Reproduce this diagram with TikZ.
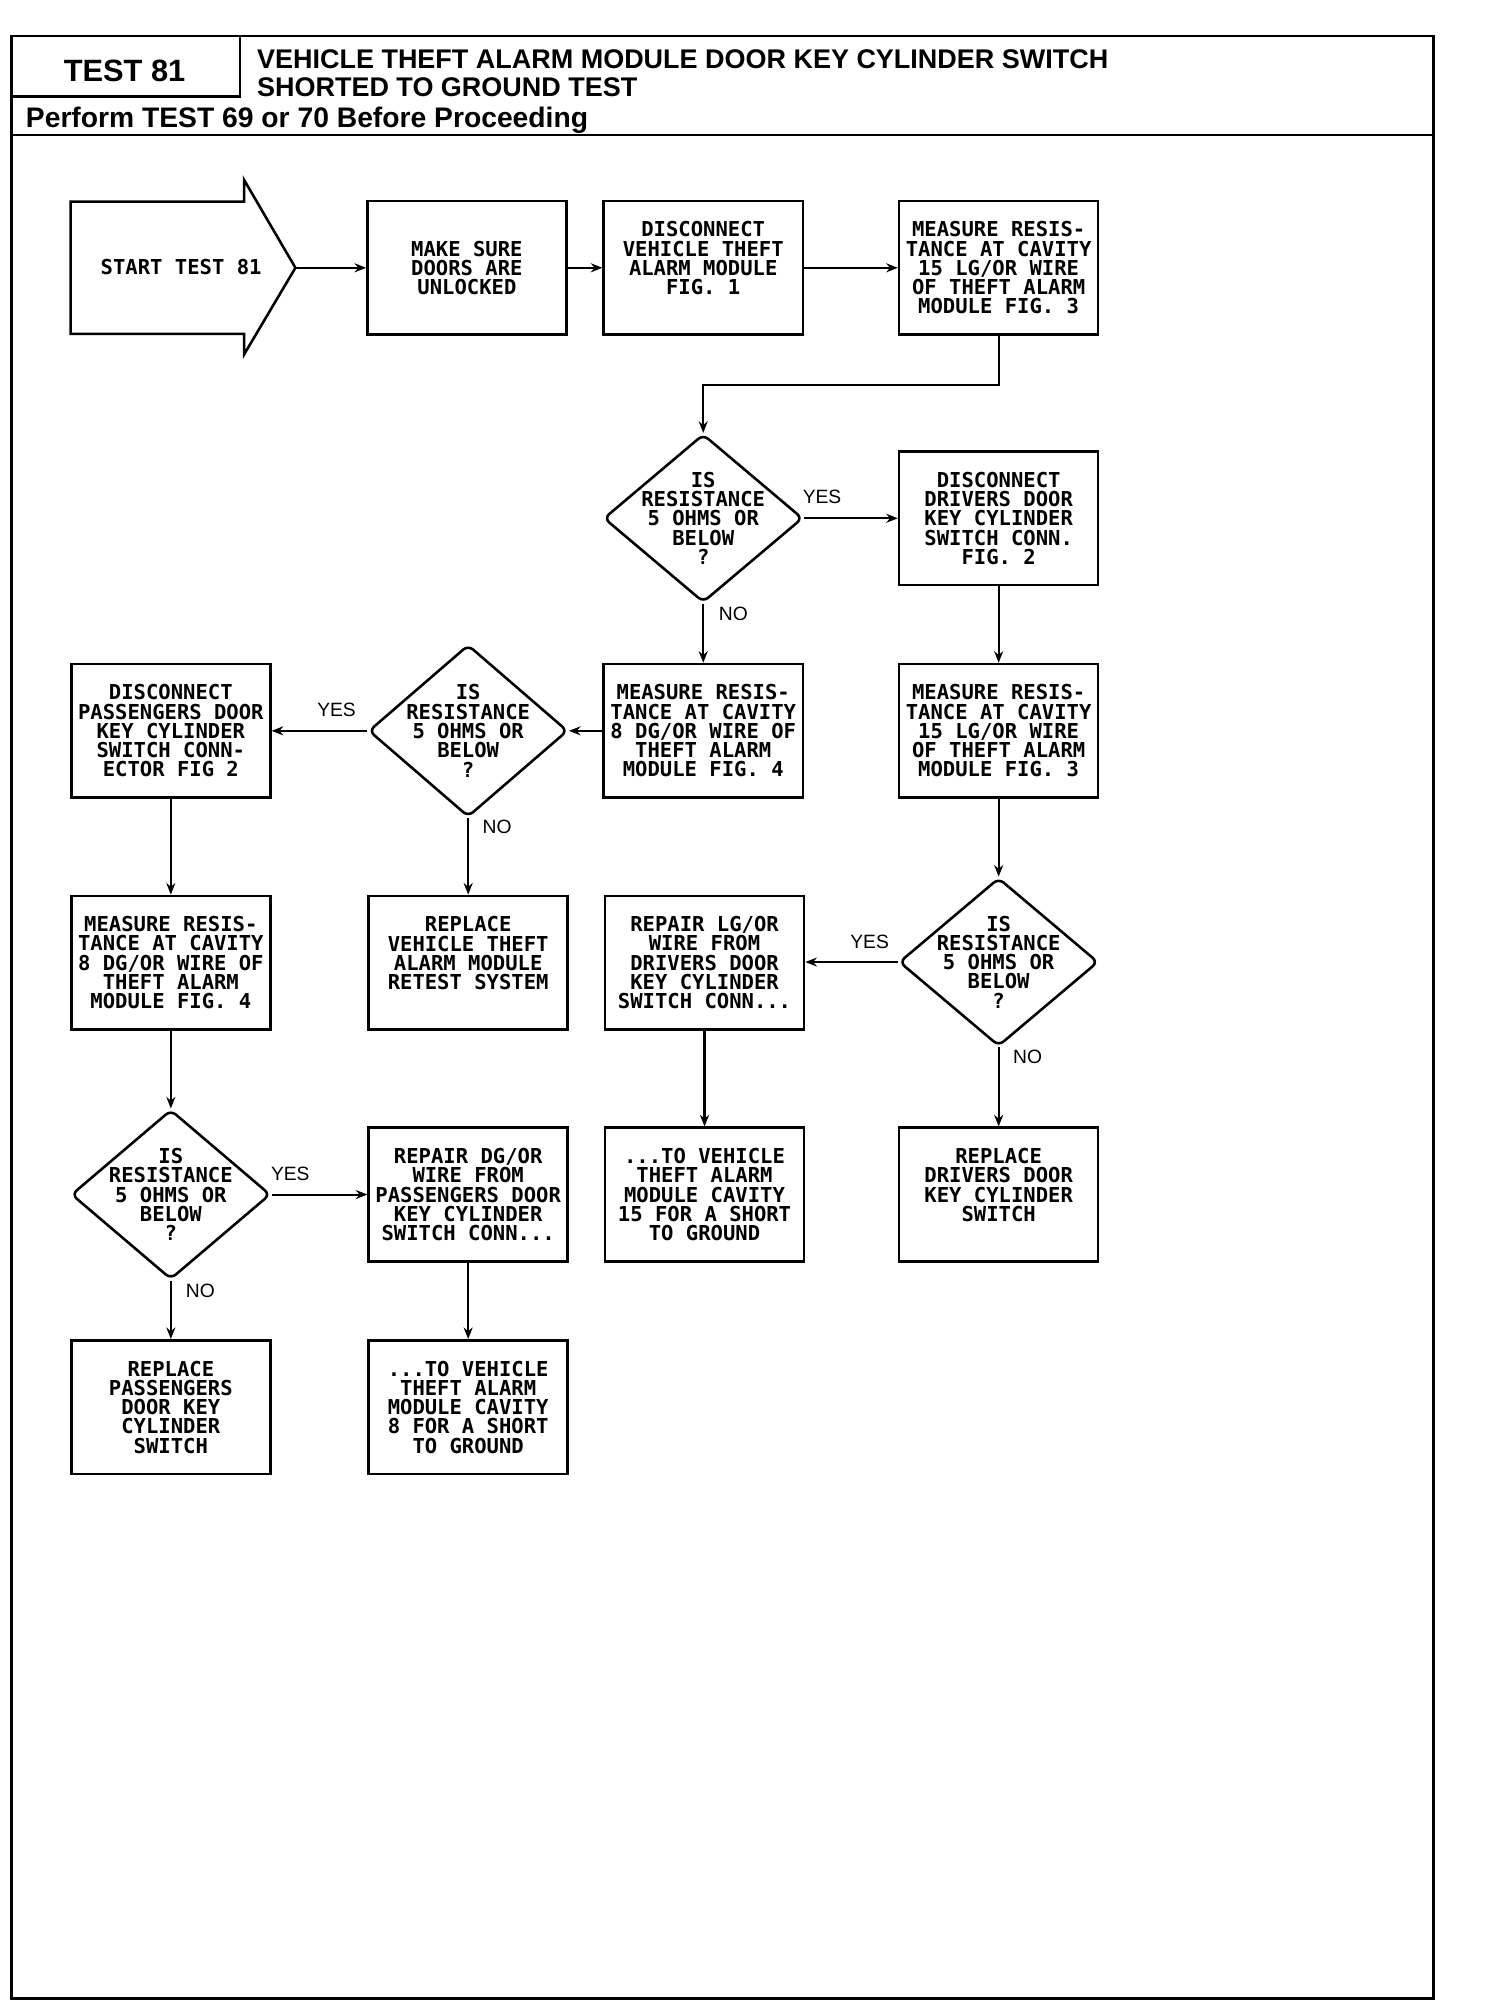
\documentclass[tikz,border=0pt]{standalone}
\usepackage{fontspec}
\setmainfont{Liberation Sans}
\newfontfamily\plotfont{DejaVu Sans Mono}
\usetikzlibrary{shapes.geometric,arrows.meta}
\tikzset{
  txt/.style={font=\plotfont\bfseries\fontsize{16}{15}\selectfont, align=center},
  box/.style={draw, line width=2pt, minimum width=155pt, minimum height=104pt, inner sep=0pt, txt},
  dia/.style={draw, diamond, line width=2pt, rounded corners=5pt, minimum width=155pt, minimum height=131pt, inner sep=0pt},
  arr/.style={line width=1.6pt, -{Stealth[length=9pt,width=7pt]}},
  yn/.style={font=\fontsize{15}{15}\selectfont, inner sep=0pt},
  hdr/.style={font=\bfseries\fontsize{21}{21}\selectfont, inner sep=0pt, anchor=base west}
}
\begin{document}
\begin{tikzpicture}[x=1pt,y=-1pt]
\useasboundingbox (0,0) rectangle (1171,1568);
% frame and header
\draw[line width=2.2pt] (9,28) rectangle (1116,1556);
\draw[line width=2pt] (187,28) -- (187,75) -- (9,75);
\draw[line width=2pt] (9,105) -- (1116,105);
\node[font=\bfseries\fontsize{24}{24}\selectfont, inner sep=0pt] (testno) at (97,55) {TEST 81};
\node[hdr] (title1) at (200,53) {VEHICLE THEFT ALARM MODULE DOOR KEY CYLINDER SWITCH};
\node[hdr] (title2) at (200,75) {SHORTED TO GROUND TEST};
\node[hdr, font=\bfseries\fontsize{22}{22}\selectfont] (perform) at (20,99) {Perform TEST 69 or 70 Before Proceeding};

% start arrow
\draw[line width=2pt, line join=miter] (55,157) -- (190,157) -- (190,140) -- (230,208.5) -- (190,276) -- (190,260) -- (55,260) -- cycle;
\coordinate (starttip) at (230,208.5);
\node[txt] (start) at (141,208) {START TEST 81};

% boxes
\node[box] (b1) at (363.5,208.5) {MAKE SURE\\DOORS ARE\\UNLOCKED};
\node[box] (b2) at (547.5,208.5) {DISCONNECT\\VEHICLE THEFT\\ALARM MODULE\\FIG. 1\\~};
\node[box] (b3) at (777.5,208.5) {MEASURE RESIS-\\TANCE AT CAVITY\\15 LG/OR WIRE\\OF THEFT ALARM\\MODULE FIG. 3};
\node[dia, label={[txt]center:{IS\\RESISTANCE\\5 OHMS OR\\BELOW\\?}}] (d1) at (547.5,403.5) {};
\node[box] (b4) at (777.5,403.5) {DISCONNECT\\DRIVERS DOOR\\KEY CYLINDER\\SWITCH CONN.\\FIG. 2};
\node[box] (b5) at (547.5,569) {MEASURE RESIS-\\TANCE AT CAVITY\\8 DG/OR WIRE OF\\THEFT ALARM\\MODULE FIG. 4};
\node[box] (b6) at (777.5,569) {MEASURE RESIS-\\TANCE AT CAVITY\\15 LG/OR WIRE\\OF THEFT ALARM\\MODULE FIG. 3};
\node[dia, minimum height=134pt, label={[txt]center:{IS\\RESISTANCE\\5 OHMS OR\\BELOW\\?}}] (d2) at (364.5,569) {};
\node[box] (b7) at (133,569) {DISCONNECT\\PASSENGERS DOOR\\KEY CYLINDER\\SWITCH CONN-\\ECTOR FIG 2};
\node[box] (b8) at (364.5,749.5) {REPLACE\\VEHICLE THEFT\\ALARM MODULE\\RETEST SYSTEM\\~};
\node[dia, label={[txt]center:{IS\\RESISTANCE\\5 OHMS OR\\BELOW\\?}}] (d3) at (777.5,749) {};
\node[box] (b9) at (548.5,749.5) {REPAIR LG/OR\\WIRE FROM\\DRIVERS DOOR\\KEY CYLINDER\\SWITCH CONN...};
\node[box] (b10) at (777.5,930) {REPLACE\\DRIVERS DOOR\\KEY CYLINDER\\SWITCH\\~};
\node[box] (b11) at (548.5,930) {...TO VEHICLE\\THEFT ALARM\\MODULE CAVITY\\15 FOR A SHORT\\TO GROUND};
\node[box] (b12) at (133,749.5) {MEASURE RESIS-\\TANCE AT CAVITY\\8 DG/OR WIRE OF\\THEFT ALARM\\MODULE FIG. 4};
\node[dia, minimum height=132pt, label={[txt]center:{IS\\RESISTANCE\\5 OHMS OR\\BELOW\\?}}] (d4) at (133,930) {};
\node[box] (b13) at (364.5,930) {REPAIR DG/OR\\WIRE FROM\\PASSENGERS DOOR\\KEY CYLINDER\\SWITCH CONN...};
\node[box] (b14) at (133,1095.5) {REPLACE\\PASSENGERS\\DOOR KEY\\CYLINDER\\SWITCH};
\node[box] (b15) at (364.5,1095.5) {...TO VEHICLE\\THEFT ALARM\\MODULE CAVITY\\8 FOR A SHORT\\TO GROUND};

% yes / no labels
\node[yn] (y1) at (640,387) {YES};
\node[yn] (n1) at (571,478) {NO};
\node[yn] (y2) at (262,553) {YES};
\node[yn] (n2) at (387,644) {NO};
\node[yn] (y3) at (677,733) {YES};
\node[yn] (n3) at (800,823) {NO};
\node[yn] (y4) at (226,914) {YES};
\node[yn] (n4) at (156,1005) {NO};

% connectors
\draw[arr] (starttip) -- (b1.west);
\draw[arr] (b1) -- (b2);
\draw[arr] (b2) -- (b3);
\draw[arr] (b3.south) -- ++(0,38) -| (d1.north);
\draw[arr] (d1.east) -- (b4.west);
\draw[arr] (d1.south) -- (b5.north);
\draw[arr] (b4) -- (b6);
\draw[arr] (b5.west) -- (d2.east);
\draw[arr] (d2.west) -- (b7.east);
\draw[arr] (d2.south) -- (b8.north);
\draw[arr] (b6.south) -- (d3.north);
\draw[arr] (d3.west) -- (d3.west -| b9.east);
\draw[arr] (d3.south) -- (b10.north);
\draw[arr] (b9) -- (b11);
\draw[arr] (b7) -- (b12);
\draw[arr] (b12.south) -- (d4.north);
\draw[arr] (d4.east) -- (b13.west);
\draw[arr] (d4.south) -- (b14.north);
\draw[arr] (b13) -- (b15);
\end{tikzpicture}
\end{document}
